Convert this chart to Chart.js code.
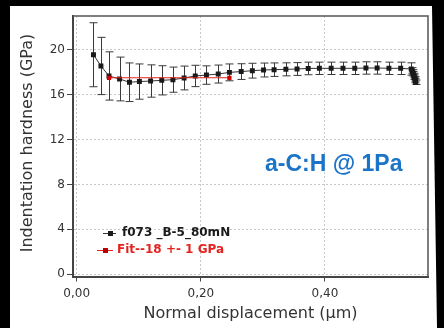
<!DOCTYPE html>
<html>
<head>
<meta charset="utf-8">
<script src="https://cdn.jsdelivr.net/npm/chart.js@4.4.1/dist/chart.umd.min.js"></script>
<style>
  html,body{margin:0;padding:0;background:#000;}
  #card{position:absolute;left:0;top:0;width:444px;height:328px;background:#fff;
    clip-path:polygon(10px 6px,432px 6px,437px 328px,10px 328px);}
  #wrap{position:absolute;left:0;top:0;width:444px;height:328px;}
</style>
</head>
<body>
<div id="card"></div>
<div id="wrap"><canvas id="chart"></canvas></div>
<script>
const COLORS = { black:'#1a1a1a', line:'#333', err:'#3a3a3a', fit:'#e2231f', grid:'#c8c8c8', text:'#333', note:'#1c74c9' };

const SERIES_NAME = 'f073 _B-5_80mN';
const FIT_NAME = 'Fit--18 +- 1 GPa';
const NOTE = 'a-C:H @ 1Pa';

// depth (µm), hardness (GPa), +- error (GPa)
const DEPTH = [0.027,0.039,0.052,0.069,0.085,0.101,0.119,0.137,0.155,0.173,0.191,0.209,0.228,0.246,0.265,
  0.283,0.301,0.318,0.337,0.355,0.373,0.391,0.410,0.429,0.448,0.466,0.484,0.503,0.522,0.539,
  0.5405,0.5415,0.5425,0.543,0.544,0.545,0.5455,0.546];
const HARDNESS = [19.55,18.55,17.66,17.39,17.10,17.16,17.21,17.27,17.33,17.48,17.66,17.74,17.83,17.98,18.05,
  18.13,18.19,18.22,18.25,18.28,18.33,18.34,18.34,18.34,18.34,18.37,18.37,18.34,18.34,18.28,
  18.15,18.00,17.85,17.70,17.55,17.40,17.25,17.10];
const HARDNESS_ERR = [2.85,2.55,2.15,1.95,1.72,1.57,1.44,1.30,1.12,1.06,0.95,0.82,0.80,0.75,0.70,
  0.66,0.62,0.60,0.58,0.57,0.56,0.55,0.55,0.55,0.55,0.55,0.55,0.55,0.55,0.55,
  0.25,0.22,0.20,0.20,0.20,0.20,0.20,0.20];

const FIT_DEPTH = [0.052, 0.246];
const FIT_HARDNESS = [17.5, 17.5];

const X_TICKS = [0, 0.2, 0.4];
const Y_TICKS = [0, 4, 8, 12, 16, 20];

const extras = {
  id:'extras',
  beforeDatasetsDraw(chart){
    const {ctx, scales:{x, y}} = chart;
    ctx.save();
    ctx.strokeStyle = COLORS.err; ctx.lineWidth = 1;
    DEPTH.forEach((d,i)=>{
      const px = Math.round(x.getPixelForValue(d)) + .5;
      const y1 = y.getPixelForValue(HARDNESS[i] + HARDNESS_ERR[i]);
      const y2 = y.getPixelForValue(HARDNESS[i] - HARDNESS_ERR[i]);
      ctx.beginPath();
      ctx.moveTo(px, y1); ctx.lineTo(px, y2);
      ctx.moveTo(px-4, y1); ctx.lineTo(px+4, y1);
      ctx.moveTo(px-4, y2); ctx.lineTo(px+4, y2);
      ctx.stroke();
    });
    ctx.restore();
  },
  afterDraw(chart){
    const {ctx, chartArea:a} = chart;
    ctx.save();
    // top and right frame
    ctx.strokeStyle = '#555'; ctx.lineWidth = 1.5;
    ctx.beginPath();
    ctx.moveTo(a.left, a.top); ctx.lineTo(a.right, a.top); ctx.lineTo(a.right, a.bottom);
    ctx.stroke();

    // legend inside the plot
    ctx.textBaseline = 'middle'; ctx.textAlign = 'left';
    ctx.font = 'bold 12px "DejaVu Sans"';
    ctx.strokeStyle = COLORS.line; ctx.lineWidth = 1;
    ctx.beginPath(); ctx.moveTo(103, 233.5); ctx.lineTo(116, 233.5); ctx.stroke();
    ctx.fillStyle = COLORS.black; ctx.fillRect(108, 231, 5, 5);
    ctx.fillText(SERIES_NAME, 122, 233);
    ctx.strokeStyle = COLORS.fit;
    ctx.beginPath(); ctx.moveTo(97, 250.5); ctx.lineTo(113, 250.5); ctx.stroke();
    ctx.fillStyle = '#b00'; ctx.fillRect(103, 248, 5, 5);
    ctx.fillStyle = COLORS.fit;
    ctx.fillText(FIT_NAME, 117, 250);

    // sample note
    ctx.textBaseline = 'alphabetic';
    ctx.fillStyle = COLORS.note;
    ctx.font = 'bold 23px "Liberation Sans"';
    ctx.fillText(NOTE, 265, 171);

    // y axis title
    ctx.textBaseline = 'middle';
    ctx.translate(28, 143);
    ctx.rotate(-Math.PI/2);
    ctx.textAlign = 'center';
    ctx.fillStyle = COLORS.text;
    ctx.font = '16px "DejaVu Sans"';
    ctx.fillText('Indentation hardness (GPa)', 0, 0);
    ctx.restore();
  }
};

new Chart(document.getElementById('chart'), {
  type:'line',
  data:{
    datasets:[
      { label:FIT_NAME, data: FIT_DEPTH.map((d,i)=>({x:d, y:FIT_HARDNESS[i]})),
        borderColor: COLORS.fit, borderWidth:1.2, pointStyle:'rect', pointRadius:3,
        pointBackgroundColor:'#c00', pointBorderWidth:0 },
      { label:SERIES_NAME, data: DEPTH.map((d,i)=>({x:d, y:HARDNESS[i]})),
        borderColor: COLORS.line, borderWidth:1, pointStyle:'rect', pointRadius:3.5,
        pointBackgroundColor: COLORS.black, pointBorderWidth:0, tension:0 }
    ]
  },
  options:{
    responsive:true, maintainAspectRatio:false, animation:false,
    layout:{ padding:{ top:16, right:16, left:0, bottom:0 } },
    plugins:{ legend:{ display:false }, tooltip:{ enabled:false } },
    scales:{
      x:{
        type:'linear', min:-0.006, max:0.566,
        afterFit: s => { s.height = 51.5; },
        afterBuildTicks: s => { s.ticks = X_TICKS.map(v=>({value:v})); },
        grid:{ color: COLORS.grid, tickColor:'#444', tickLength:5, tickBorderDash:[] },
        border:{ color:'#444', width:2, dash:[2,2] },
        ticks:{ color: COLORS.text, font:{ family:'DejaVu Sans', size:12 }, padding:5,
          callback: v => v.toFixed(2).replace('.', ',') },
        title:{ display:true, text:'Normal displacement (µm)', color: COLORS.text,
          font:{ family:'DejaVu Sans', size:16 }, padding:{ top:0, bottom:5 } }
      },
      y:{
        min:-0.2, max:23,
        afterFit: s => { s.width = 73; },
        afterBuildTicks: s => { s.ticks = Y_TICKS.map(v=>({value:v})); },
        grid:{ color: COLORS.grid, tickColor:'#444', tickLength:6, tickBorderDash:[] },
        border:{ color:'#444', width:2, dash:[2,2] },
        ticks:{ color: COLORS.text, font:{ family:'DejaVu Sans', size:12 }, padding:2 }
      }
    }
  },
  plugins:[extras]
});
</script>
</body>
</html>
